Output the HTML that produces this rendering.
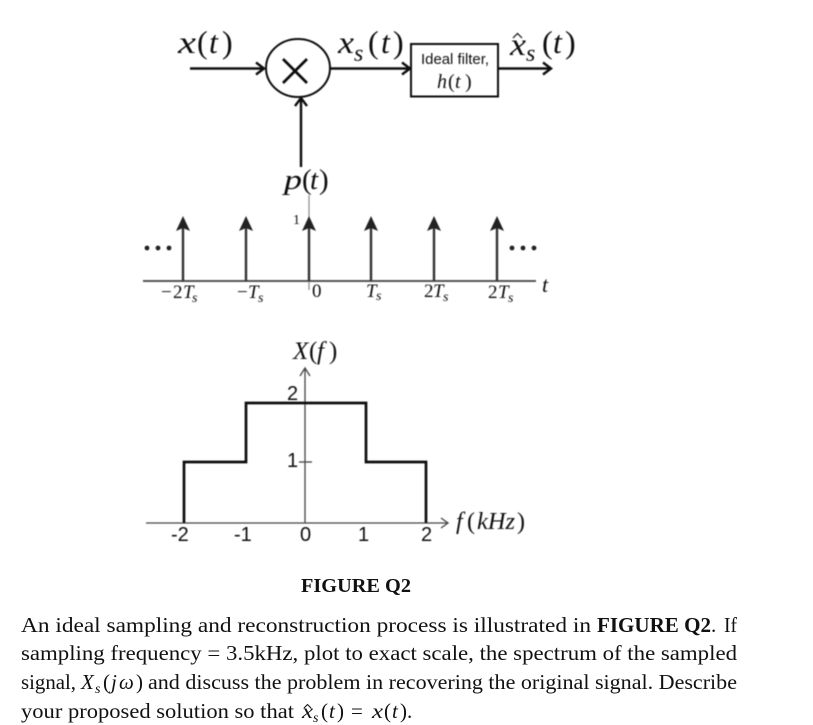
<!DOCTYPE html>
<html>
<head>
<meta charset="utf-8">
<style>
html,body{margin:0;padding:0;background:#fff;width:813px;height:725px;overflow:hidden}
svg{display:block}
text{font-family:"Liberation Serif",serif;fill:#111}
.m{font-style:italic}
.a{font-family:"Liberation Sans",sans-serif}
.p{font-size:21px}
.L{font-size:32px}
.S{font-size:24px}
.T{font-size:19px}
.ts{font-size:14px;font-style:italic}
.n{font-family:"Liberation Sans",sans-serif;font-size:20px}
</style>
</head>
<body>
<svg width="813" height="725" viewBox="0 0 813 725" xmlns="http://www.w3.org/2000/svg">
<defs><filter id="b" x="-5%" y="-5%" width="110%" height="110%"><feGaussianBlur stdDeviation="0.45"/></filter></defs>
<g filter="url(#b)">
<!-- block diagram -->
<g fill="none" stroke="#111" stroke-width="2.4">
<path d="M190 68.5H263M256 62.5L264 68.5L256 74.5"/>
<ellipse cx="298" cy="68" rx="32" ry="29" stroke-width="2"/>
<path d="M283 59L307 83M307 59L283 83" stroke-width="2.8"/>
<path d="M330 68.5H409M402 62.5L410 68.5L402 74.5"/>
<rect x="411" y="44" width="87" height="52.5" stroke-width="2"/>
<path d="M498 68.5H550M543 62.5L551 68.5L543 74.5"/>
<path d="M301 167V99M295 106L301 98L307 106"/>
<path d="M513 38L517.5 33.5L522 38" stroke-width="1.2"/>
</g>
<text class="m L" x="178" y="53" textLength="18" lengthAdjust="spacingAndGlyphs">x</text>
<text class="L" x="197" y="53">(</text>
<text class="m L" x="209" y="53">t</text>
<text class="L" x="222" y="53">)</text>

<text class="m L" x="338" y="53" textLength="16" lengthAdjust="spacingAndGlyphs">x</text>
<text class="m S" x="354" y="61">s</text>
<text class="L" x="368" y="53">(</text>
<text class="m L" x="381" y="53">t</text>
<text class="L" x="393" y="53">)</text>

<text class="m L" x="510" y="55" textLength="16" lengthAdjust="spacingAndGlyphs">x</text>
<text class="m S" x="526" y="61">s</text>
<text class="L" x="542" y="53">(</text>
<text class="m L" x="553" y="53">t</text>
<text class="L" x="565" y="53">)</text>

<text class="a" x="421" y="64" font-size="14.5" textLength="68" lengthAdjust="spacingAndGlyphs">Ideal filter,</text>
<text class="m" x="437" y="88" font-size="20">h</text>
<text x="448" y="88" font-size="20">(</text>
<text class="m" x="455" y="88" font-size="20">t</text>
<text x="465" y="88" font-size="20">)</text>

<text class="m" x="284" y="189" font-size="29" textLength="18" lengthAdjust="spacingAndGlyphs">p</text>
<text x="302" y="189" font-size="29">(</text>
<text class="m" x="310" y="189" font-size="29">t</text>
<text x="319" y="189" font-size="29">)</text>

<!-- impulses -->
<path d="M309 195V290" stroke="#8a8a8a" stroke-width="1.2"/>
<path d="M143 281H536" stroke="#555" stroke-width="2"/>
<g stroke="#333" stroke-width="2.4">
<path d="M183 281V228M246 281V228M309 281V228M371 281V228M434 281V228M497 281V228"/>
</g>
<g fill="#222">
<path d="M183 216L190 231L183 228L176 231Z"/>
<path d="M246 216L253 231L246 228L239 231Z"/>
<path d="M309 216L316 231L309 228L302 231Z"/>
<path d="M371 216L378 231L371 228L364 231Z"/>
<path d="M434 216L441 231L434 228L427 231Z"/>
<path d="M497 216L504 231L497 228L490 231Z"/>
<circle cx="147" cy="248" r="2.4"/><circle cx="158" cy="248" r="2.4"/><circle cx="169" cy="248" r="2.4"/>
<circle cx="512" cy="248" r="2.4"/><circle cx="523" cy="248" r="2.4"/><circle cx="534" cy="248" r="2.4"/>
</g>
<text x="293" y="224" font-size="14">1</text>

<text class="T" x="161" y="298">−</text><text class="T" x="173" y="298">2</text><text class="m T" x="183" y="298">T</text><text class="ts" x="192" y="302">s</text>
<text class="T" x="237" y="298">−</text><text class="m T" x="248" y="298">T</text><text class="ts" x="258" y="302">s</text>
<text class="T" x="312" y="297">0</text>
<text class="m T" x="366" y="297">T</text><text class="ts" x="376" y="300">s</text>
<text class="T" x="424" y="297">2</text><text class="m T" x="433" y="297">T</text><text class="ts" x="443" y="301">s</text>
<text class="T" x="488" y="298">2</text><text class="m T" x="498" y="298">T</text><text class="ts" x="508" y="302">s</text>
<text class="m" x="542" y="292" font-size="22">t</text>

<!-- spectrum -->
<g fill="none" stroke="#444" stroke-width="1.3">
<path d="M146 523H447M441 518L448 523L441 528"/>
<path d="M305 523V369M300 376L305 368L310 376"/>
<path d="M299 462H312"/>
</g>
<path d="M184 523V462H246V403H366V462H426V523" fill="none" stroke="#111" stroke-width="2.7"/>

<text class="m" x="293" y="359" font-size="25">X</text>
<text x="309" y="359" font-size="25">(</text>
<text class="m" x="317" y="359" font-size="25">f</text>
<text x="329" y="359" font-size="25">)</text>

<text class="n" x="287" y="400">2</text>
<text class="n" x="287" y="467">1</text>
<text class="n" x="171" y="541">-2</text>
<text class="n" x="234" y="541">-1</text>
<text class="n" x="300" y="541">0</text>
<text class="n" x="358" y="541">1</text>
<text class="n" x="421" y="541">2</text>

<text class="m" x="456" y="529" font-size="24">f</text>
<text x="467" y="529" font-size="24">(</text>
<text class="m" x="477" y="529" font-size="24" textLength="38" lengthAdjust="spacingAndGlyphs">kHz</text>
<text x="517" y="529" font-size="24">)</text>
</g>

<!-- caption and paragraph -->
<text x="301" y="592" font-size="20" font-weight="bold" textLength="110" lengthAdjust="spacingAndGlyphs">FIGURE Q2</text>
<text class="p" x="21" y="632" textLength="570" lengthAdjust="spacingAndGlyphs">An ideal sampling and reconstruction process is illustrated in</text>
<text class="p" x="597" y="632" font-weight="bold" textLength="114" lengthAdjust="spacingAndGlyphs">FIGURE Q2</text>
<text class="p" x="711" y="632">.</text>
<text class="p" x="724" y="632" textLength="13" lengthAdjust="spacingAndGlyphs">If</text>
<text class="p" x="21" y="660" textLength="716" lengthAdjust="spacingAndGlyphs">sampling frequency = 3.5kHz, plot to exact scale, the spectrum of the sampled</text>

<text class="p" x="21" y="689" textLength="55" lengthAdjust="spacingAndGlyphs">signal,</text>
<text class="p m" x="81" y="689">X</text>
<text class="m" x="95" y="693" font-size="14">s</text>
<text class="p" x="103" y="689">(</text>
<text class="p m" x="111" y="689">j</text>
<text class="p m" x="119" y="689">ω</text>
<text class="p" x="136" y="689">)</text>
<text class="p" x="148" y="689" textLength="589" lengthAdjust="spacingAndGlyphs">and discuss the problem in recovering the original signal. Describe</text>

<text class="p" x="21" y="718" textLength="273" lengthAdjust="spacingAndGlyphs">your proposed solution so that</text>
<path d="M304 708L307.5 704.5L311 708" fill="none" stroke="#111" stroke-width="1"/>
<text class="p m" x="302" y="718" textLength="11" lengthAdjust="spacingAndGlyphs">x</text>
<text class="m" x="313" y="722" font-size="14">s</text>
<text class="p" x="321" y="718">(</text>
<text class="p m" x="329" y="718">t</text>
<text class="p" x="337" y="718">)</text>
<text class="p" x="351" y="718">=</text>
<text class="p m" x="372" y="718" textLength="11" lengthAdjust="spacingAndGlyphs">x</text>
<text class="p" x="384" y="718">(</text>
<text class="p m" x="392" y="718">t</text>
<text class="p" x="400" y="718">).</text>
</svg>
</body>
</html>
